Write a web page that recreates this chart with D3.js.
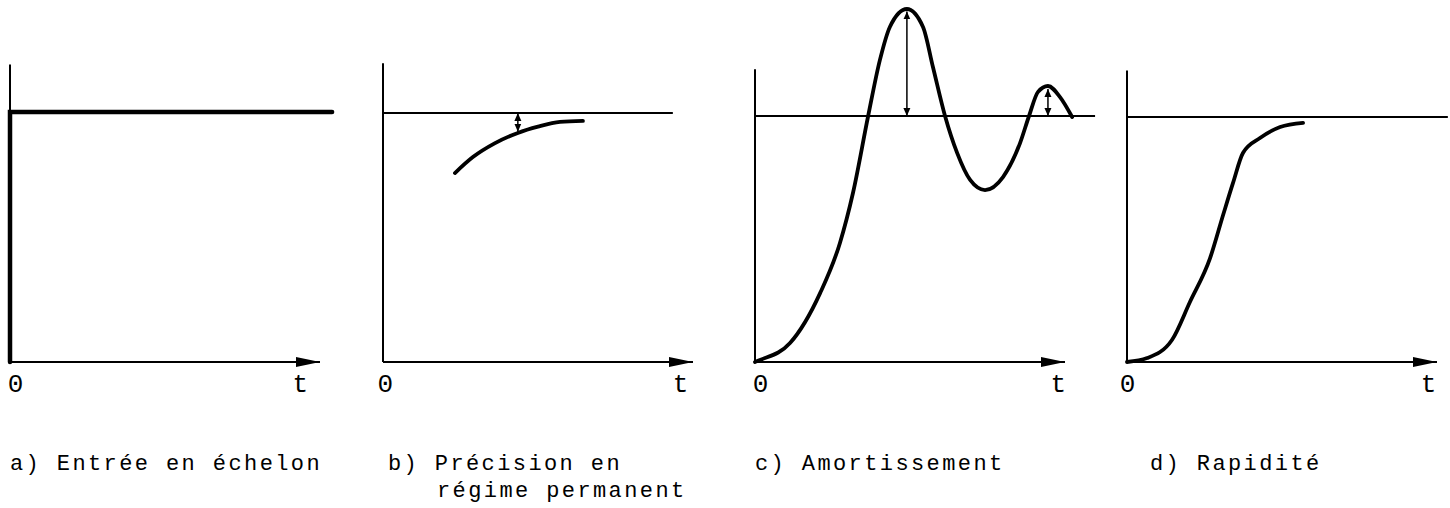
<!DOCTYPE html>
<html><head><meta charset="utf-8">
<script src="https://cdn.jsdelivr.net/npm/d3@7"></script>
<style>body{margin:0;background:#fff}svg{display:block}</style>
</head><body>
<svg id="chart" width="1450" height="508"></svg>
<script>
// ---------- data (t from 0 to 10 on each time axis, y = 1 is the set-point) ----------
const panelNames = ["a", "b", "c", "d"];
const tickLabels = ["0", "t"];
const tickPositions = [[0.16, 9.35], [0.06, 9.58], [0.16, 9.77], [0.0, 9.71]];
const captionLines = [
  ["a) Entrée en échelon"],
  ["b) Précision en", "régime permanent"],
  ["c) Amortissement"],
  ["d) Rapidité"]
];
const setPointEnd = [10.39, 9.35, 10.97, 10.35];
const axisTop = [1.19, 1.20, 1.19, 1.19];
const stepA = [[0, 0], [0, 1], [10.39, 1]];
const curveB = [[2.32, 0.759], [2.90, 0.823], [3.60, 0.878], [4.35, 0.920], [5.0, 0.945], [5.71, 0.964], [6.45, 0.968]];
const curveC = [[0, 0], [0.16, 0.008], [1.13, 0.077], [2.10, 0.280], [2.74, 0.484], [3.16, 0.687], [3.65, 1.0],
  [4.03, 1.228], [4.35, 1.362], [4.90, 1.435], [5.42, 1.362], [5.74, 1.199], [6.13, 1.0], [6.52, 0.850],
  [6.94, 0.740], [7.42, 0.699], [8.0, 0.752], [8.55, 0.890], [8.84, 1.0], [9.13, 1.098], [9.45, 1.122],
  [9.84, 1.077], [10.23, 0.996]];
const curveD = [[0, 0], [0.65, 0.016], [1.45, 0.090], [2.03, 0.245], [2.68, 0.424], [3.10, 0.600], [3.42, 0.731],
  [3.74, 0.853], [4.29, 0.914], [4.94, 0.959], [5.68, 0.976]];
const gapArrows = [[], [[4.35, 1.0, 0.925]], [[4.90, 1.425, 1.0], [9.45, 1.11, 1.0]], []];
const responses = [stepA, curveB, curveC, curveD];

// ---------- layout ----------
const layout = [
  { x0: 10,   yRef: 112, capX: [10],       capY: [470] },
  { x0: 383,  yRef: 113, capX: [388, 437], capY: [470, 497] },
  { x0: 755,  yRef: 116, capX: [755],      capY: [470] },
  { x0: 1127, yRef: 117, capX: [1150],     capY: [470] }
];
const axisLen = 310, yBase = 362;

const svg = d3.select("#chart");
const defs = svg.append("defs");
defs.append("marker").attr("id", "bigArrow").attr("markerUnits", "userSpaceOnUse")
  .attr("viewBox", "0 0 24 10").attr("refX", 24).attr("refY", 5)
  .attr("markerWidth", 24).attr("markerHeight", 10).attr("orient", "auto")
  .append("path").attr("d", "M0,0 L24,5 L0,10 Z").attr("fill", "#000");
defs.append("marker").attr("id", "smallArrow").attr("markerUnits", "userSpaceOnUse")
  .attr("viewBox", "0 0 8 8").attr("refX", 8).attr("refY", 4)
  .attr("markerWidth", 8).attr("markerHeight", 8).attr("orient", "auto-start-reverse")
  .append("path").attr("d", "M0,0.5 L8,4 L0,7.5 Z").attr("fill", "#000");

panelNames.forEach((name, i) => {
  const L = layout[i];
  const x = d3.scaleLinear().domain([0, 10]).range([L.x0, L.x0 + axisLen]);
  const y = d3.scaleLinear().domain([0, 1]).range([yBase, L.yRef]);
  const g = svg.append("g").attr("class", "panel-" + name);
  const line = d3.line().x(d => x(d[0])).y(d => y(d[1]));

  // vertical axis
  g.append("path").attr("d", line([[0, 0], [0, axisTop[i]]]))
    .attr("stroke", "#000").attr("stroke-width", 2).attr("fill", "none");
  // horizontal time axis with arrow
  g.append("path").attr("d", line([[0, 0], [10, 0]]))
    .attr("stroke", "#000").attr("stroke-width", 2.2).attr("fill", "none")
    .attr("marker-end", "url(#bigArrow)");
  // tick labels via d3 axis
  const ax = d3.axisBottom(x).tickValues(tickPositions[i]).tickSize(0).tickPadding(12)
    .tickFormat((d, k) => tickLabels[k]);
  const axg = g.append("g").attr("transform", `translate(0,${yBase})`).call(ax);
  axg.select(".domain").remove();
  axg.selectAll("text").attr("font-family", "'Liberation Mono', monospace")
    .attr("font-size", 26).attr("fill", "#000");

  // set-point reference line (panel a: the step itself)
  if (i > 0) {
    g.append("path").attr("d", line([[0, 1], [setPointEnd[i], 1]]))
      .attr("stroke", "#000").attr("stroke-width", 1.8).attr("fill", "none");
  }
  // response
  const resp = i === 0 ? line : d3.line().x(d => x(d[0])).y(d => y(d[1])).curve(d3.curveMonotoneX);
  g.append("path").attr("d", resp(responses[i]))
    .attr("stroke", "#000").attr("stroke-width", i === 0 ? 4.5 : 3.8)
    .attr("fill", "none").attr("stroke-linejoin", "miter").attr("stroke-linecap", "round");

  // gap arrows
  gapArrows[i].forEach(a => {
    g.append("path").attr("d", line([[a[0], a[1]], [a[0], a[2]]]))
      .attr("stroke", "#000").attr("stroke-width", 1.5).attr("fill", "none")
      .attr("marker-start", "url(#smallArrow)").attr("marker-end", "url(#smallArrow)");
  });

  // caption
  captionLines[i].forEach((txt, k) => {
    g.append("text").attr("x", L.capX[k]).attr("y", L.capY[k]).text(txt)
      .attr("font-family", "'Liberation Mono', monospace").attr("font-size", 22)
      .attr("letter-spacing", 2.4).attr("fill", "#000");
  });
});
</script>
</body></html>
